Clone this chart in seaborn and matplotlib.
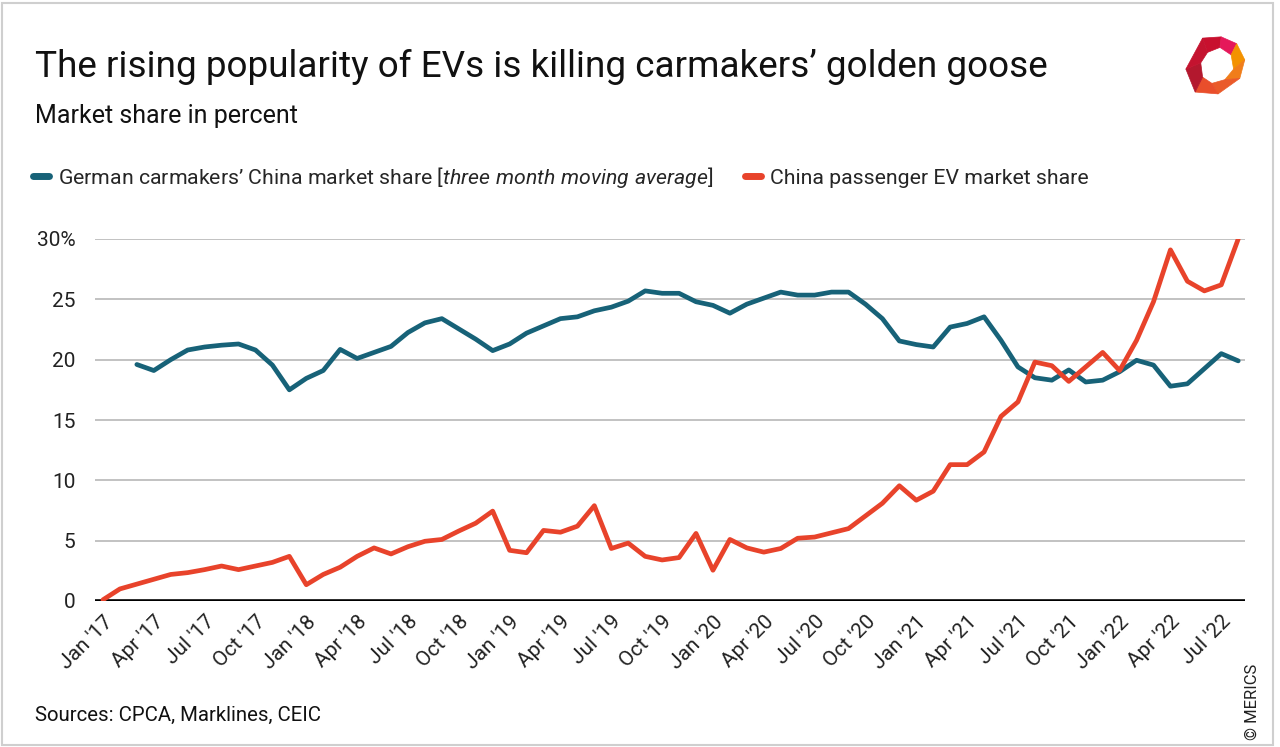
import numpy as np
import pandas as pd
import seaborn as sns
import matplotlib.pyplot as plt
from matplotlib.patches import Polygon, Rectangle

# Data (monthly, Jan '17 - Aug '22)
months = pd.date_range("2017-01-01", "2022-08-01", freq="MS")
german_share = [np.nan, np.nan, 19.6, 19.1, 20.0, 20.8, 21.05, 21.2, 21.3, 20.8,
                19.55, 17.5, 18.45, 19.1, 20.85, 20.1, 20.6, 21.1, 22.25, 23.05,
                23.4, 22.55, 21.7, 20.75, 21.3, 22.2, 22.8, 23.4, 23.55, 24.05,
                24.35, 24.85, 25.7, 25.5, 25.5, 24.8, 24.5, 23.85, 24.6, 25.1,
                25.6, 25.35, 25.35, 25.6, 25.6, 24.6, 23.4, 21.55, 21.25, 21.05,
                22.7, 23.0, 23.55, 21.6, 19.4, 18.5, 18.3, 19.15, 18.15, 18.3,
                19.0, 19.95, 19.55, 17.8, 18.0, 19.25, 20.5, 19.9]
ev_share = [0.1, 1.0, 1.4, 1.8, 2.2, 2.35, 2.6, 2.9, 2.6, 2.9,
            3.2, 3.7, 1.35, 2.2, 2.8, 3.7, 4.4, 3.9, 4.5, 4.95,
            5.1, 5.8, 6.45, 7.45, 4.2, 4.0, 5.85, 5.7, 6.2, 7.9,
            4.35, 4.8, 3.7, 3.4, 3.6, 5.6, 2.55, 5.1, 4.4, 4.05,
            4.35, 5.2, 5.3, 5.65, 6.0, 7.05, 8.1, 9.55, 8.35, 9.1,
            11.3, 11.3, 12.35, 15.3, 16.5, 19.8, 19.5, 18.2, 19.4, 20.6,
            19.1, 21.6, 24.8, 29.1, 26.5, 25.7, 26.2, 30.0]
tick_labels = ["Jan '17", "Apr '17", "Jul '17", "Oct '17", "Jan '18", "Apr '18",
               "Jul '18", "Oct '18", "Jan '19", "Apr '19", "Jul '19", "Oct '19",
               "Jan '20", "Apr '20", "Jul '20", "Oct '20", "Jan '21", "Apr '21",
               "Jul '21", "Oct '21", "Jan '22", "Apr '22", "Jul '22"]
y_ticks = [0, 5, 10, 15, 20, 25, 30]

series_names = ["German carmakers’ China market share", "China passenger EV market share"]
colors = ["#176278", "#e8432b"]

df = pd.DataFrame({"month": np.arange(len(months)),
                   series_names[0]: german_share,
                   series_names[1]: ev_share})
long = df.melt(id_vars="month", var_name="series", value_name="share")

sns.set_style("white")
plt.rcParams["font.family"] = ["Roboto", "DejaVu Sans"]
plt.rcParams["mathtext.fontset"] = "custom"
plt.rcParams["mathtext.it"] = "Roboto:italic"
plt.rcParams["mathtext.rm"] = "Roboto"

fig = plt.figure(figsize=(12.8, 7.47), dpi=100)
ax = fig.add_axes([95 / 1280, 1 - 601 / 747, 1150 / 1280, 362 / 747])

sns.lineplot(data=long, x="month", y="share", hue="series", palette=colors,
             linewidth=3.4, ax=ax, legend=False)

ax.set_xlim(-0.47, 67.4)
ax.set_ylim(0, 30)
ax.set_yticks(y_ticks)
ax.set_yticklabels([f"{v}%" if v == 30 else str(v) for v in y_ticks])
ax.set_xticks(np.arange(0, len(months), 3))
ax.set_xticklabels(tick_labels, rotation=45, ha="right", rotation_mode="anchor")
ax.tick_params(axis="y", length=0, pad=14, labelsize=15, colors="#222222")
ax.tick_params(axis="x", length=0, pad=8, labelsize=15, colors="#222222")
ax.set_xlabel("")
ax.set_ylabel("")
for s in ax.spines.values():
    s.set_visible(False)
ax.yaxis.grid(True, color="#bdbdbd", linewidth=1.3)
ax.set_axisbelow(True)
ax.axhline(0, color="black", linewidth=2.6, zorder=1)

# Legend
handles = ax.get_lines()[:2]
labels = [series_names[0] + r" $\it{[three\ month\ moving\ average]}$", series_names[1]]
leg = fig.legend(handles, labels, loc="center left",
                 bbox_to_anchor=(33 / 1280, 1 - 177 / 747), ncol=2, frameon=False,
                 fontsize=15.3, handlelength=0.75, handletextpad=0.42,
                 columnspacing=1.5, borderpad=0, borderaxespad=0)
for line in leg.get_lines():
    line.set_linewidth(5)
    line.set_solid_capstyle("round")

# Titles and notes
fig.text(35 / 1280, 1 - 77 / 747, "The rising popularity of EVs is killing carmakers’ golden goose",
         fontsize=26.6, va="baseline", color="#111111")
fig.text(35 / 1280, 1 - 123 / 747, "Market share in percent",
         fontsize=18, va="baseline", color="#111111")
fig.text(35 / 1280, 1 - 721 / 747, "Sources: CPCA, Marklines, CEIC",
         fontsize=14.7, va="baseline", color="#111111")
fig.text(1252 / 1280, 1 - 702 / 747, "© MERICS", rotation=90, fontsize=12,
         ha="center", va="center", color="#222222")

# Border
fig.patches.append(Rectangle((2 / 1280, 2 / 747), 1271 / 1280, 742 / 747,
                             transform=fig.transFigure, fill=False,
                             edgecolor="#cfcfcf", linewidth=1.5))

# Logo
lax = fig.add_axes([1184 / 1280, 1 - 97 / 747, 62 / 1280, 62 / 747])
lax.set_xlim(0, 1)
lax.set_ylim(0, 1)
lax.axis("off")
outer = [(0.3, 0.95), (0.6, 0.97), (0.85, 0.86), (0.98, 0.6),
         (0.9, 0.3), (0.55, 0.05), (0.18, 0.08), (0.03, 0.45)]
inner = [(0.38, 0.72), (0.58, 0.8), (0.76, 0.68), (0.8, 0.45),
         (0.66, 0.28), (0.45, 0.22), (0.3, 0.32), (0.27, 0.55)]
seg_colors = ["#c8102e", "#e5185a", "#f39200", "#f07d1a",
              "#ea5a2a", "#e94e2b", "#b3182e", "#c4132f"]
for k in range(len(outer)):
    j = (k + 1) % len(outer)
    lax.add_patch(Polygon([outer[k], outer[j], inner[j], inner[k]],
                          closed=True, facecolor=seg_colors[k], edgecolor=seg_colors[k],
                          linewidth=0.5))

fig.savefig("out.png", dpi=100)
